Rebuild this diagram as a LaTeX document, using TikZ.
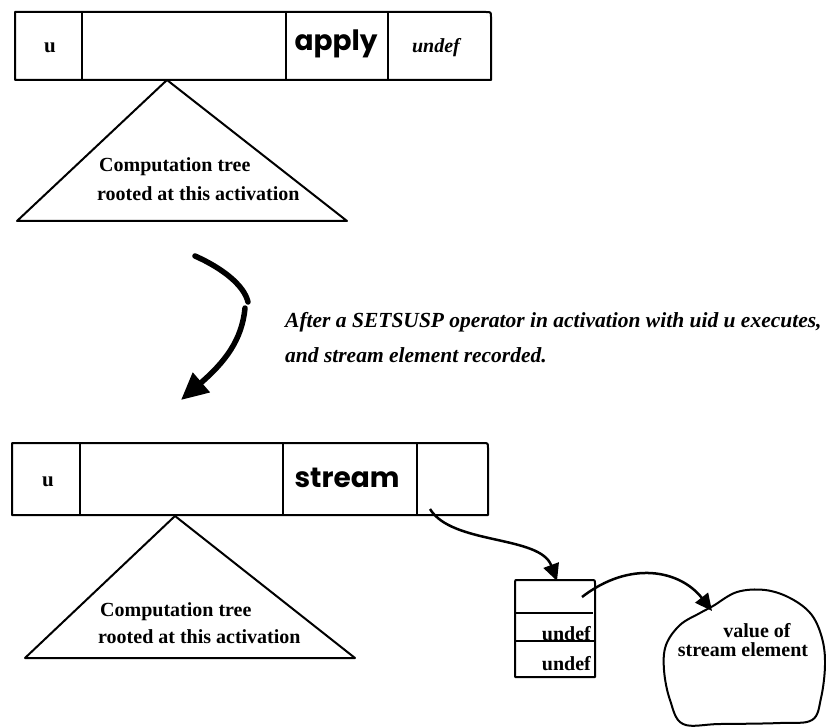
\documentclass[tikz,border=0pt]{standalone}
\usepackage{fontspec}
\setmainfont{Liberation Serif}
\newfontfamily\recfont{Poppins}
\usetikzlibrary{arrows.meta}
\begin{document}
\begin{tikzpicture}[x=1pt,y=-1pt,line join=round,
  box/.style={line width=2pt},
  txt/.style={font=\bfseries\fontsize{20}{22}\selectfont,inner sep=0pt},
  big/.style={font=\recfont\bfseries\fontsize{28}{30}\selectfont,inner sep=0pt},
  capt/.style={font=\bfseries\itshape\fontsize{21.5}{24}\selectfont,inner sep=0pt},
  ptr/.style={line width=2.5pt,-{Triangle[length=17pt,width=16pt]}},
  bigarrow/.style={line width=5.5pt,line cap=round,-{Triangle[length=27pt,width=25pt]}}]
\useasboundingbox[fill=white] (0,0) rectangle (826,727);

% ---- top record ----
\draw[box] (491,80) -- (15,80) -- (15,12) -- (486,12) .. controls (491,12) .. (491,17) -- cycle;
\draw[box] (82,12) -- (82,80) (286,12) -- (286,80) (388,12) -- (388,80);
\node[txt,font=\bfseries\fontsize{21}{22}\selectfont] (tu) at (50,48) {u};
\node[big] (tapply) at (336,44) {apply};
\node[txt,font=\bfseries\itshape\fontsize{20}{20}\selectfont] (tundef) at (436,48) {undef};

% ---- top tree ----
\coordinate (tapex) at (167,80);
\draw[box] (tapex) -- (347,221) -- (17,221) -- cycle;
\node[txt,anchor=base west] (tct) at (99,172) {Computation tree};
\node[txt,anchor=base west] (troot) at (97,201) {rooted at this activation};

% ---- transition arrow and caption ----
\coordinate (bs) at (195,256);
\coordinate (bm) at (248,302);
\coordinate (bm2) at (245,308);
\coordinate (be) at (181,400);
\draw[line width=5.5pt,line cap=round] (bs) .. controls (222,268) and (244,285) .. (bm);
\draw[bigarrow] (bm2) .. controls (242,340) and (225,362) .. (be);
\node[capt,anchor=base west] (cap1) at (285,327) {After a SETSUSP operator in activation with uid u executes,};
\node[capt,anchor=base west] (cap2) at (285,362) {and stream element recorded.};

% ---- bottom record ----
\draw[box] (488,515) -- (12,515) -- (12,443) -- (483,443) .. controls (488,443) .. (488,448) -- cycle;
\draw[box] (80,443) -- (80,515) (283,443) -- (283,515) (417,443) -- (417,515);
\node[txt,font=\bfseries\fontsize{21}{22}\selectfont] (bu) at (48,482) {u};
\node[big] (bstream) at (347,478) {stream};
\coordinate (bptr) at (430,509);

% ---- bottom tree ----
\coordinate (bapex) at (175,516);
\draw[box] (bapex) -- (355,658) -- (25,658) -- cycle;
\node[txt,anchor=base west] (bct) at (100,616) {Computation tree};
\node[txt,anchor=base west] (broot) at (98,643) {rooted at this activation};

% ---- stream element cell ----
\draw[box] (515,677) -- (515,582) .. controls (515,580) .. (518,580) -- (592,580) .. controls (595,580) .. (595,583) -- (595,677) -- cycle;
\draw[box] (515,613) -- (593,613);
\draw[box] (515,641) -- (595,641);
\coordinate (stop) at (557,581);
\coordinate (sptr) at (582,597);
\node[txt,anchor=base east] (undefa) at (591,640) {undef};
\node[txt,anchor=base east] (undefb) at (591,670) {undef};

% ---- value blob ----
\draw[box] plot[smooth cycle,tension=0.6] coordinates {(713,606) (737,592) (765,590) (790,598) (811,614) (822,638) (825,665) (821,698) (812,720) (780,723) (720,724) (683,724) (670,700) (664,670) (666,645) (680,625) (700,613)};
\coordinate (blob) at (712,611);
\node[txt,font=\bfseries\fontsize{20}{20}\selectfont] (val1) at (757,631) {value of};
\node[txt,font=\bfseries\fontsize{20}{20}\selectfont] (val2) at (743,650) {stream element};

% ---- pointers ----
\draw[ptr] (bptr) .. controls (452,545) and (540,535) .. (stop);
\draw[ptr] (sptr) .. controls (630,560) and (680,570) .. (blob);
\end{tikzpicture}
\end{document}
